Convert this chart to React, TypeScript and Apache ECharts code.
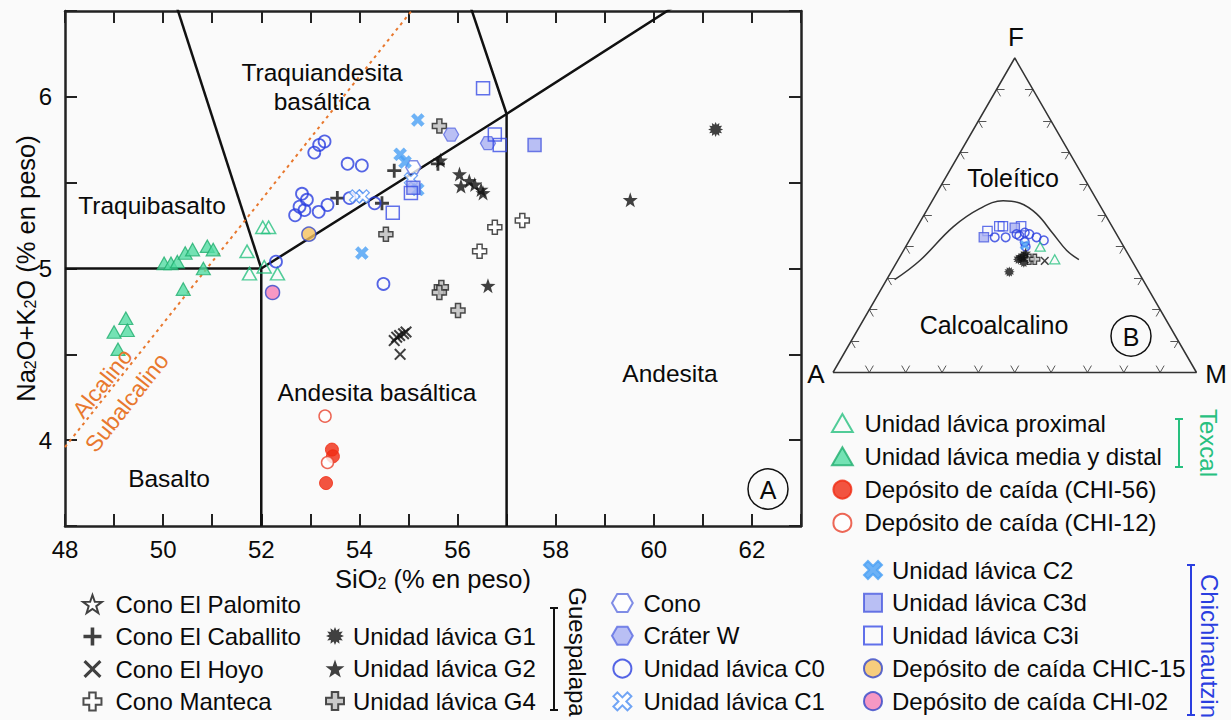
import React, { useEffect, useRef } from 'react';
import * as echarts from 'echarts';

const FONT = '"Liberation Sans", Arial, sans-serif';

// ---------- TAS diagram data: [SiO2, Na2O+K2O] ----------
const texcalProximal = [[52.03, 5.24], [52.15, 5.24], [51.71, 5.1], [51.76, 4.97], [52.06, 5.01], [52.33, 4.97]];
const texcalMediaDistal = [[49.24, 4.71], [49.0, 4.63], [49.27, 4.64], [49.08, 4.53], [50.41, 4.88], [50.02, 5.03], [50.16, 5.03], [50.29, 5.04], [50.45, 5.09], [50.6, 5.11], [50.9, 5.13], [51.02, 5.11], [50.82, 5.0]];
const chi56 = [[53.44, 3.945], [53.46, 3.906], [53.32, 3.75]];
const chi12 = [[53.3, 4.14], [53.35, 3.87]];
const palomito: number[][] = [];
const caballito = [[53.55, 5.41], [54.71, 5.57], [54.46, 5.38], [55.6, 5.61]];
const hoyo = [[54.82, 4.61], [54.95, 4.63], [54.71, 4.58], [54.76, 4.6], [54.83, 4.5], [54.9, 4.62]];
const manteca = [[57.32, 5.28], [56.76, 5.24], [56.45, 5.1]];
const g1 = [[61.26, 5.81]];
const g2 = [[56.04, 5.55], [56.07, 5.48], [56.24, 5.51], [56.35, 5.49], [56.48, 5.46], [56.52, 5.44], [56.62, 4.9], [59.52, 5.4], [55.65, 5.63]];
const g4 = [[55.63, 5.83], [54.54, 5.2], [55.67, 4.89], [55.63, 4.86], [56.01, 4.755]];
const cono = [[55.1, 5.59]];
const craterW = [[55.87, 5.78], [56.62, 5.73]];
const c0 = [[53.08, 5.675], [53.18, 5.72], [53.29, 5.74], [53.76, 5.61], [54.05, 5.6], [52.83, 5.435], [52.93, 5.4], [52.78, 5.36], [52.69, 5.31], [52.88, 5.34], [53.17, 5.33], [53.35, 5.37], [53.8, 5.41], [54.31, 5.38], [52.3, 5.04], [54.49, 4.91]];
const c1 = [[53.93, 5.42], [54.07, 5.42], [55.05, 5.52]];
const c2 = [[55.19, 5.865], [54.05, 5.09], [54.83, 5.665], [54.93, 5.62], [55.19, 5.46]];
const c3d = [[57.57, 5.72], [55.1, 5.47]];
const c3i = [[56.52, 6.05], [56.76, 5.78], [56.86, 5.72], [54.68, 5.325], [55.05, 5.44]];
const chic15 = [[52.97, 5.2]];
const chi02 = [[52.23, 4.86]];

// TAS classification boundaries (Le Bas et al.)
const bndBasalt = [[48, 5], [52, 5]];
const bndMain = [[52, 3.5], [52, 5], [57, 5.9], [63, 7]];
const bndTrachy = [[49.4, 7.3], [52, 5]];
const bndAndesite = [[53, 9.3], [57, 5.9], [57, 3.5]];
const alkalineLine = [[48, 3.96], [55.06, 6.5]];

// ---------- AFM ternary data: [A, F, M] ----------
const afmVertices = [[100, 0, 0], [0, 0, 100], [0, 100, 0], [100, 0, 0]];
const afmBoundary = [[68.3, 29.5, 2.2], [58.3, 35.6, 6.1], [43.8, 46.3, 9.9], [33.6, 52.1, 14.3], [25.9, 54.6, 19.5], [21.7, 53.9, 24.4], [18.8, 50.5, 30.7], [17.4, 44.2, 38.4], [16.3, 38.8, 44.9], [14.4, 35.9, 49.7]];
const afmC3i = [[35, 45, 20], [31, 46.5, 22.5], [30, 46.5, 23.5], [25, 46.5, 28.5]];
const afmC3d = [[37, 43, 20], [27, 46, 27]];
const afmC0 = [[34, 43, 23], [31, 43, 26], [27.5, 44, 28.5], [25, 44.5, 30.5], [24, 44, 32], [27, 43.5, 29.5], [22.5, 43, 34.5], [21, 42, 37], [26.5, 41.5, 32], [27, 40, 33]];
const afmProximal = [[23, 40, 37], [21, 36, 43]];
const afmG1 = [[30, 36.5, 33.5], [29, 37, 34], [31, 36, 33], [30, 35, 35], [35.5, 32, 32.5]];
const afmG4 = [[28, 36, 36], [26.5, 36, 37.5]];
const afmHoyo = [[24, 35.5, 40.5]];
const afmG2 = [[28, 38, 34]];
const afmC2 = [[27, 40.5, 32.5]];

const SQ3 = Math.sqrt(3) / 2;
const tern = (p: number[]) => {
  const s = p[0] + p[1] + p[2];
  const f = p[1] / s;
  const m = p[2] / s;
  return [m + f / 2, f * SQ3];
};
const ternAll = (arr: number[][]) => arr.map(tern);

// ---------- symbols ----------
const P_TRI = 'path://M5,0L10,8.66L0,8.66Z';
const P_RECT = 'path://M0,0H10V10H0Z';
const P_PLUS_THIN = 'path://M4,0H6V4H10V6H6V10H4V6H0V4H4Z';
const P_X_THIN = 'path://M0,1.2L1.2,0L5,3.8L8.8,0L10,1.2L6.2,5L10,8.8L8.8,10L5,6.2L1.2,10L0,8.8L3.8,5Z';
const P_PLUS_FAT = 'path://M3.2,0H6.8V3.2H10V6.8H6.8V10H3.2V6.8H0V3.2H3.2Z';
const P_X_FAT = 'path://M0,2.2L2.2,0L5,2.8L7.8,0L10,2.2L7.2,5L10,7.8L7.8,10L5,7.2L2.2,10L0,7.8L2.8,5Z';
const P_STAR = 'path://M5,0L6.18,3.38L9.76,3.45L6.9,5.62L7.94,9.05L5,7L2.06,9.05L3.1,5.62L0.24,3.45L3.82,3.38Z';
const P_HEX = 'path://M2.5,0H7.5L10,4.33L7.5,8.66H2.5L0,4.33Z';
const burstPath = (() => {
  const n = 12;
  let d = '';
  for (let i = 0; i < 2 * n; i++) {
    const r = i % 2 === 0 ? 5 : 3.2;
    const a = (Math.PI * i) / n - Math.PI / 2;
    d += (i === 0 ? 'M' : 'L') + (5 + r * Math.cos(a)).toFixed(2) + ',' + (5 + r * Math.sin(a)).toFixed(2);
  }
  return 'path://' + d + 'Z';
})();

const GREEN = '#27c07f';
const GREEN_FILL = '#52dca3';
const RED = '#f02a12';
const BLUE = '#2a3ee0';
const LBLUE = '#4d8ff2';
const BLACK = '#111';
const CLEAR = 'rgba(255,255,255,0)';
const TXT = '#0a0a0a';

type Sty = { symbol: string; size: number | number[]; color: string; border: string; bw: number };
const styles: Record<string, Sty> = {
  'Unidad lávica proximal': { symbol: P_TRI, size: [14, 12.5], color: CLEAR, border: GREEN, bw: 1.5 },
  'Unidad lávica media y distal': { symbol: P_TRI, size: [14, 12.5], color: GREEN_FILL, border: '#1fae6e', bw: 1.2 },
  'Depósito de caída (CHI-56)': { symbol: 'circle', size: 13, color: RED, border: RED, bw: 1 },
  'Depósito de caída (CHI-12)': { symbol: 'circle', size: 12, color: '#ffffff', border: '#e8412c', bw: 1.5 },
  'Cono El Palomito': { symbol: P_STAR, size: 18, color: '#ffffff', border: BLACK, bw: 1 },
  'Cono El Caballito': { symbol: P_PLUS_THIN, size: 14, color: BLACK, border: BLACK, bw: 0 },
  'Cono El Hoyo': { symbol: P_X_THIN, size: 12, color: BLACK, border: BLACK, bw: 0 },
  'Cono Manteca': { symbol: P_PLUS_FAT, size: 14, color: '#ffffff', border: '#222', bw: 1.5 },
  'Unidad lávica G1': { symbol: burstPath, size: 15, color: BLACK, border: BLACK, bw: 0 },
  'Unidad lávica G2': { symbol: P_STAR, size: 15, color: BLACK, border: BLACK, bw: 0 },
  'Unidad lávica G4': { symbol: P_PLUS_FAT, size: 14, color: '#bdbdbd', border: '#222', bw: 1.5 },
  'Cono': { symbol: P_HEX, size: [15, 13], color: '#ffffff', border: '#6070e0', bw: 1.5 },
  'Cráter W': { symbol: P_HEX, size: [15, 13], color: '#a9b0f2', border: '#5a6ae2', bw: 1.2 },
  'Unidad lávica C0': { symbol: 'circle', size: 12, color: CLEAR, border: BLUE, bw: 1.8 },
  'Unidad lávica C1': { symbol: P_X_FAT, size: 13, color: '#ffffff', border: LBLUE, bw: 1.3 },
  'Unidad lávica C2': { symbol: P_X_FAT, size: 13, color: '#4aa0f5', border: '#4aa0f5', bw: 0.5 },
  'Unidad lávica C3d': { symbol: P_RECT, size: 13, color: '#a9b0f2', border: '#4a5ae0', bw: 1.5 },
  'Unidad lávica C3i': { symbol: P_RECT, size: 13, color: CLEAR, border: '#3a4ee6', bw: 1.5 },
  'Depósito de caída CHIC-15': { symbol: 'circle', size: 14, color: '#f6c25e', border: '#3346c8', bw: 1.5 },
  'Depósito de caída CHI-02': { symbol: 'circle', size: 14, color: '#f57fb6', border: '#3346c8', bw: 1.5 },
};

const tasSets: [string, number[][]][] = [
  ['Unidad lávica proximal', texcalProximal],
  ['Unidad lávica media y distal', texcalMediaDistal],
  ['Depósito de caída (CHI-56)', chi56],
  ['Depósito de caída (CHI-12)', chi12],
  ['Cono El Palomito', palomito],
  ['Cono El Caballito', caballito],
  ['Cono El Hoyo', hoyo],
  ['Cono Manteca', manteca],
  ['Unidad lávica G1', g1],
  ['Unidad lávica G2', g2],
  ['Unidad lávica G4', g4],
  ['Cono', cono],
  ['Cráter W', craterW],
  ['Unidad lávica C0', c0],
  ['Unidad lávica C1', c1],
  ['Unidad lávica C2', c2],
  ['Unidad lávica C3d', c3d],
  ['Unidad lávica C3i', c3i],
  ['Depósito de caída CHIC-15', chic15],
  ['Depósito de caída CHI-02', chi02],
];

const afmSets: [string, number[][]][] = [
  ['Unidad lávica C3i', afmC3i],
  ['Unidad lávica C3d', afmC3d],
  ['Unidad lávica C0', afmC0],
  ['Unidad lávica proximal', afmProximal],
  ['Unidad lávica G4', afmG4],
  ['Cono El Hoyo', afmHoyo],
  ['Unidad lávica G2', afmG2],
  ['Unidad lávica C2', afmC2],
  ['Unidad lávica G1', afmG1],
];

const scatter = (name: string, data: number[][], gi: number, scale: number, seriesName: string) => {
  const s = styles[name];
  const size = Array.isArray(s.size) ? s.size.map((v) => v * scale) : (s.size as number) * scale;
  return {
    type: 'scatter',
    name: seriesName,
    data,
    xAxisIndex: gi === 0 ? 0 : 2,
    yAxisIndex: gi === 0 ? 0 : 2,
    symbol: s.symbol,
    symbolSize: size,
    itemStyle: { color: s.color, borderColor: s.border, borderWidth: s.bw * (gi === 0 ? 1 : 0.85) },
    silent: true,
    z: 5,
  };
};

const lineSeries = (data: number[][], color: string, width: number, gi: number, extra: any = {}) => ({
  type: 'line',
  data,
  xAxisIndex: gi === 0 ? 0 : 2,
  yAxisIndex: gi === 0 ? 0 : 2,
  symbol: 'none',
  lineStyle: { color, width },
  silent: true,
  clip: true,
  z: 3,
  ...extra,
});

// ternary edge ticks (decoration)
const ternTicks = () => {
  const L = 0.022;
  const segs: any[] = [];
  const add = (p: number[], d: number[]) => segs.push({ coords: [p, [p[0] + d[0] * L, p[1] + d[1] * L]] });
  for (let i = 1; i < 10; i++) {
    const t = i / 10;
    const pb = [t, 0];
    add(pb, [0.5, SQ3]);
    add(pb, [-0.5, SQ3]);
    const pl = [t / 2, t * SQ3];
    add(pl, [1, 0]);
    add(pl, [0.5, -SQ3]);
    const pr = [1 - t / 2, t * SQ3];
    add(pr, [-1, 0]);
    add(pr, [-0.5, -SQ3]);
  }
  return segs;
};

// icon centre x, text start x, first row centre y, row pitch
const legend = (names: string[], iconX: number, textX: number, firstY: number, pitch: number) => {
  const w = 2 * (textX - iconX - 5);
  return {
    data: names,
    orient: 'vertical',
    left: iconX - w / 2,
    top: firstY - 12,
    padding: 0,
    itemGap: pitch - 24,
    itemWidth: w,
    itemHeight: 18,
    symbolKeepAspect: true,
    selectedMode: false,
    textStyle: { fontSize: 24, color: TXT, fontFamily: FONT, lineHeight: 24 },
  };
};

const txt = (text: string, x: number, y: number, extra: any = {}, rotation = 0) => ({
  type: 'text',
  x,
  y,
  rotation,
  silent: true,
  z: 10,
  style: {
    text,
    fill: TXT,
    font: `24px ${FONT}`,
    textAlign: 'center',
    textVerticalAlign: 'middle',
    ...extra,
  },
});

const bracket = (x: number, y1: number, y2: number, color: string) => [
  { type: 'line', shape: { x1: x, y1, x2: x, y2 }, style: { stroke: color, lineWidth: 2 }, silent: true },
  { type: 'line', shape: { x1: x - 4, y1, x2: x + 4, y2: y1 }, style: { stroke: color, lineWidth: 2 }, silent: true },
  { type: 'line', shape: { x1: x - 4, y1: y2, x2: x + 4, y2 }, style: { stroke: color, lineWidth: 2 }, silent: true },
];

const ORANGE = '#e8782e';

export default function App() {
  const ref = useRef<HTMLDivElement>(null);
  useEffect(() => {
    if (!ref.current) return;
    const chart = echarts.init(ref.current, null, { renderer: 'svg' });
    const axisLine = { onZero: false, lineStyle: { color: '#222', width: 2.5 } };
    const axisTick = { inside: true, length: 12, lineStyle: { color: '#222', width: 2 } };
    const nameRich = {
      sub: { fontSize: 16, fontFamily: FONT, color: TXT, padding: [9, 0, 0, 0] },
    };
    const series: any[] = [];
    series.push(lineSeries(bndBasalt, '#111', 2.5, 0));
    series.push(lineSeries(bndMain, '#111', 2.5, 0));
    series.push(lineSeries(bndTrachy, '#111', 2.5, 0));
    series.push(lineSeries(bndAndesite, '#111', 2.5, 0));
    series.push(lineSeries(alkalineLine, ORANGE, 2, 0, { lineStyle: { color: ORANGE, width: 2, type: [3, 4] } }));
    tasSets.forEach(([n, d]) => series.push(scatter(n, d, 0, 1, n)));
    // AFM
    series.push(lineSeries(ternAll(afmVertices), '#333', 1.5, 1, { clip: false }));
    series.push(lineSeries(ternAll(afmBoundary), '#333', 1.5, 1, { smooth: 0.4, clip: false }));
    series.push({
      type: 'lines',
      coordinateSystem: 'cartesian2d',
      xAxisIndex: 2,
      yAxisIndex: 2,
      data: ternTicks(),
      lineStyle: { color: '#555', width: 1, opacity: 1 },
      silent: true,
      z: 3,
    });
    afmSets.forEach(([n, d]) => series.push(scatter(n, ternAll(d), 1, 0.72, n + ' (AFM)')));

    // alkaline / subalkaline labels placed along the dividing line
    const ang = Math.atan2(1.26, 1);
    const nx = -Math.sin(ang);
    const ny = -Math.cos(ang);
    const along = (d: number, off: number) => [67 + Math.cos(ang) * d + nx * off, 447 - Math.sin(ang) * d + ny * off];
    const pA = along(72, 12);
    const pS = along(72, -19);

    chart.setOption({
      animation: false,
      backgroundColor: '#fafafa',
      grid: [
        { left: 65, top: 11, width: 736, height: 515, containLabel: false },
        { left: 833, top: 58, width: 363.5, height: 314.5, containLabel: false },
      ],
      xAxis: [
        {
          gridIndex: 0, type: 'value', min: 48, max: 63, interval: 1, position: 'bottom',
          axisLine, axisTick, splitLine: { show: false },
          axisLabel: { fontSize: 24, color: TXT, fontFamily: FONT, margin: 11, formatter: (v: number) => (v % 2 === 0 ? String(v) : '') },
          name: 'SiO{sub|2} (% en peso)', nameLocation: 'middle', nameGap: 39,
          nameTextStyle: { fontSize: 25.5, color: TXT, fontFamily: FONT, rich: nameRich },
        },
        {
          gridIndex: 0, type: 'value', min: 48, max: 63, interval: 1, position: 'top',
          axisLine, axisTick, splitLine: { show: false }, axisLabel: { show: false },
        },
        { gridIndex: 1, type: 'value', min: 0, max: 1, show: false },
      ],
      yAxis: [
        {
          gridIndex: 0, type: 'value', min: 3.5, max: 6.5, interval: 0.5, position: 'left',
          axisLine, axisTick, splitLine: { show: false },
          axisLabel: { fontSize: 24, color: TXT, fontFamily: FONT, margin: 13, formatter: (v: number) => (Number.isInteger(v) ? String(v) : '') },
          name: 'Na{sub|2}O+K{sub|2}O (% en peso)', nameLocation: 'middle', nameGap: 26, nameRotate: 90,
          nameMoveOverlap: false,
          nameTextStyle: { fontSize: 25.5, color: TXT, fontFamily: FONT, rich: nameRich },
        },
        {
          gridIndex: 0, type: 'value', min: 3.5, max: 6.5, interval: 0.5, position: 'right',
          axisLine, axisTick, splitLine: { show: false }, axisLabel: { show: false },
        },
        { gridIndex: 1, type: 'value', min: 0, max: SQ3, show: false },
      ],
      legend: [
        legend(['Unidad lávica proximal', 'Unidad lávica media y distal', 'Depósito de caída (CHI-56)', 'Depósito de caída (CHI-12)'], 848, 870, 423, 33.3),
        legend(['Cono El Palomito', 'Cono El Caballito', 'Cono El Hoyo', 'Cono Manteca'], 100, 123, 604, 32.5),
        legend(['Unidad lávica G1', 'Unidad lávica G2', 'Unidad lávica G4'], 338, 356, 636, 32.5),
        legend(['Cono', 'Cráter W', 'Unidad lávica C0', 'Unidad lávica C1'], 627, 648, 603, 32.8),
        legend(['Unidad lávica C2', 'Unidad lávica C3d', 'Unidad lávica C3i', 'Depósito de caída CHIC-15', 'Depósito de caída CHI-02'], 877, 896, 570, 32.8),
      ],
      graphic: [
        txt('Traquiandesita', 322, 72, { font: `24.5px ${FONT}` }),
        txt('basáltica', 322, 101, { font: `24.5px ${FONT}` }),
        txt('Traquibasalto', 152, 205, { font: `24.5px ${FONT}` }),
        txt('Andesita basáltica', 377, 392, { font: `24.5px ${FONT}` }),
        txt('Andesita', 670, 373, { font: `24.5px ${FONT}` }),
        txt('Basalto', 169, 478, { font: `24.5px ${FONT}` }),
        txt('Alcalino', pA[0], pA[1], { fill: ORANGE, font: `23px ${FONT}` }, ang),
        txt('Subalcalino', pS[0], pS[1], { fill: ORANGE, font: `23px ${FONT}` }, ang),
        { type: 'circle', shape: { cx: 768, cy: 489, r: 20 }, style: { fill: 'none', stroke: '#111', lineWidth: 1.5 }, silent: true, z: 10 },
        txt('A', 768, 490, { font: `25px ${FONT}` }),
        txt('F', 1016, 37, { font: `26px ${FONT}` }),
        txt('A', 816, 374, { font: `26px ${FONT}` }),
        txt('M', 1216, 374, { font: `26px ${FONT}` }),
        txt('Toleítico', 1013, 178, { font: `25px ${FONT}` }),
        txt('Calcoalcalino', 994, 325, { font: `25px ${FONT}` }),
        { type: 'circle', shape: { cx: 1131, cy: 336, r: 20 }, style: { fill: 'none', stroke: '#111', lineWidth: 1.5 }, silent: true, z: 10 },
        txt('B', 1131, 337, { font: `25px ${FONT}` }),
        ...bracket(1179, 419, 467, GREEN),
        txt('Texcal', 1208, 443, { fill: GREEN }, -Math.PI / 2),
        ...bracket(554, 608, 710, '#111'),
        txt('Guespalapa', 577, 652, {}, -Math.PI / 2),
        ...bracket(1191, 565, 715, BLUE),
        txt('Chichinautzin', 1209, 646, { fill: BLUE }, -Math.PI / 2),
      ],
      series,
    });
    return () => chart.dispose();
  }, []);
  return <div ref={ref} style={{ position: 'absolute', left: 0, top: 0, width: 1231, height: 720 }} />;
}
